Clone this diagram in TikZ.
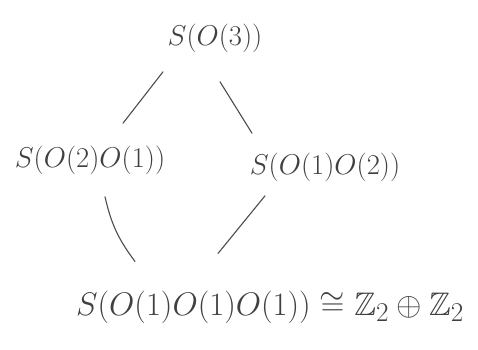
\documentclass[tikz,border=0pt]{standalone}
\usepackage{amsmath, amssymb}
\usepackage{tikz}
\usetikzlibrary{positioning}

\begin{document}
\begin{tikzpicture}[x=1pt, y=1pt,
        grp/.style={inner sep=2pt, text=black!75, font=\Huge, scale=1.15, transform shape},
        edge/.style={black!70, line width=1.1pt, line cap=round}]
            \useasboundingbox (0,0) rectangle (478,349);
            \node[grp] (T) at (215,311) {$S(O(3))$};
            \node[grp] (L) at (90,189) {$S(O(2)O(1))$};
            \node[grp] (R) at (325,182) {$S(O(1)O(2))$};
            \node[grp, scale=1.14, inner sep=0pt] (B) at (270,42) {$S(O(1)O(1)O(1)) \cong \mathbb{Z}_2 \oplus \mathbb{Z}_2$};
            % edges of the lattice
            \draw[edge] ([xshift=-52pt,yshift=-17pt]T.south) -- ([xshift=33pt,yshift=20pt]L.north);
            \draw[edge] ([xshift=5pt,yshift=-27pt]T.south) -- ([xshift=-73pt,yshift=17pt]R.north);
            \draw[edge] ([xshift=15pt,yshift=-20pt]L.south) to[bend right=12] ([xshift=-135pt,yshift=29pt]B.north);
            \draw[edge] ([xshift=-60pt,yshift=-12pt]R.south) -- ([xshift=-52pt,yshift=37pt]B.north);
        \end{tikzpicture}
\end{document}
